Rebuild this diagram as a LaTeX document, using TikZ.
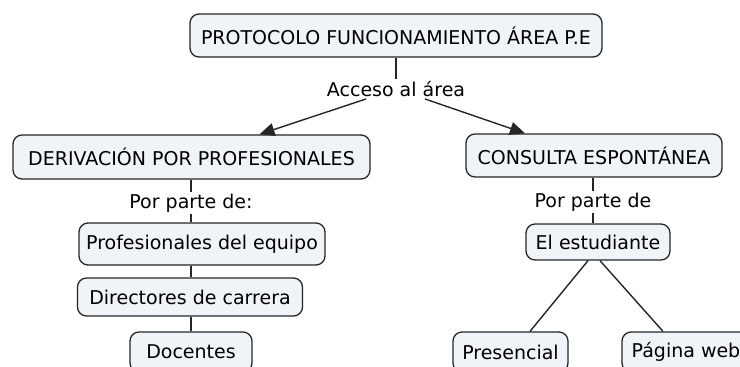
\documentclass[tikz,border=0pt]{standalone}
\usepackage{fontspec}
\setmainfont{DejaVu Sans}
\usetikzlibrary{arrows.meta}
\definecolor{boxfill}{HTML}{EEF4F7}
\definecolor{boxline}{HTML}{262626}

\begin{document}
\begin{tikzpicture}[
  x=1pt, y=-1pt,
  concept/.style={draw=boxline, line width=1.3pt, rounded corners=9pt, fill=boxfill, align=center, inner sep=0pt, font=\fontsize{19}{22}\selectfont},
  linkword/.style={inner sep=2pt, font=\fontsize{19}{22}\selectfont},
  link/.style={draw=boxline, line width=1.4pt},
  arrow/.style={link, -{Triangle[length=15pt, width=13pt]}}
]
  \useasboundingbox (0,0) rectangle (740,367);
  \clip (0,0) rectangle (740,367);

  % concepts
  \node[concept, minimum width=412pt, minimum height=43pt] (root) at (396,35.5) {PROTOCOLO FUNCIONAMIENTO ÁREA P.E};
  \node[concept, minimum width=357pt, minimum height=44pt] (deriv) at (191.5,157) {DERIVACIÓN POR PROFESIONALES};
  \node[concept, minimum width=256pt, minimum height=43pt] (consulta) at (594,155.5) {CONSULTA ESPONTÁNEA};
  \node[concept, minimum width=246pt, minimum height=42pt] (equipo) at (202,244) {Profesionales del equipo};
  \node[concept, minimum width=225pt, minimum height=38pt] (directores) at (190,297) {Directores de carrera};
  \node[concept, minimum width=122pt, minimum height=40pt] (docentes) at (191,352) {Docentes};
  \node[concept, minimum width=144pt, minimum height=36pt] (estudiante) at (598,242) {El estudiante};
  \node[concept, minimum width=115pt, minimum height=40pt] (presencial) at (510.5,352) {Presencial};
  \node[concept, minimum width=128pt, minimum height=40pt] (web) at (686,352) {Página web};

  % linking words
  \node[linkword] (acceso) at (396,89) {Acceso al área};
  \node[linkword] (porde1) at (191,203) {Por parte de:};
  \node[linkword] (porde2) at (593,202) {Por parte de};

  \draw[link] (root) -- (acceso);
  \draw[arrow] (acceso) -- ([xshift=68pt]deriv.north);
  \draw[arrow] (acceso) -- ([xshift=-69pt]consulta.north);
  \draw[link] (deriv.south -| porde1) -- (porde1);
  \draw[link] (porde1) -- (porde1 |- equipo.north);
  \draw[link] (porde1 |- equipo.south) -- (porde1 |- directores.north);
  \draw[link] (porde1 |- directores.south) -- (porde1 |- docentes.north);
  \draw[link] (consulta.south -| porde2) -- (porde2);
  \draw[link] (porde2) -- (porde2 |- estudiante.north);
  \draw[link] ([xshift=-10pt]estudiante.south) -- ([xshift=19.5pt]presencial.north);
  \draw[link] ([xshift=2pt]estudiante.south) -- ([xshift=-23pt]web.north);
\end{tikzpicture}
\end{document}
